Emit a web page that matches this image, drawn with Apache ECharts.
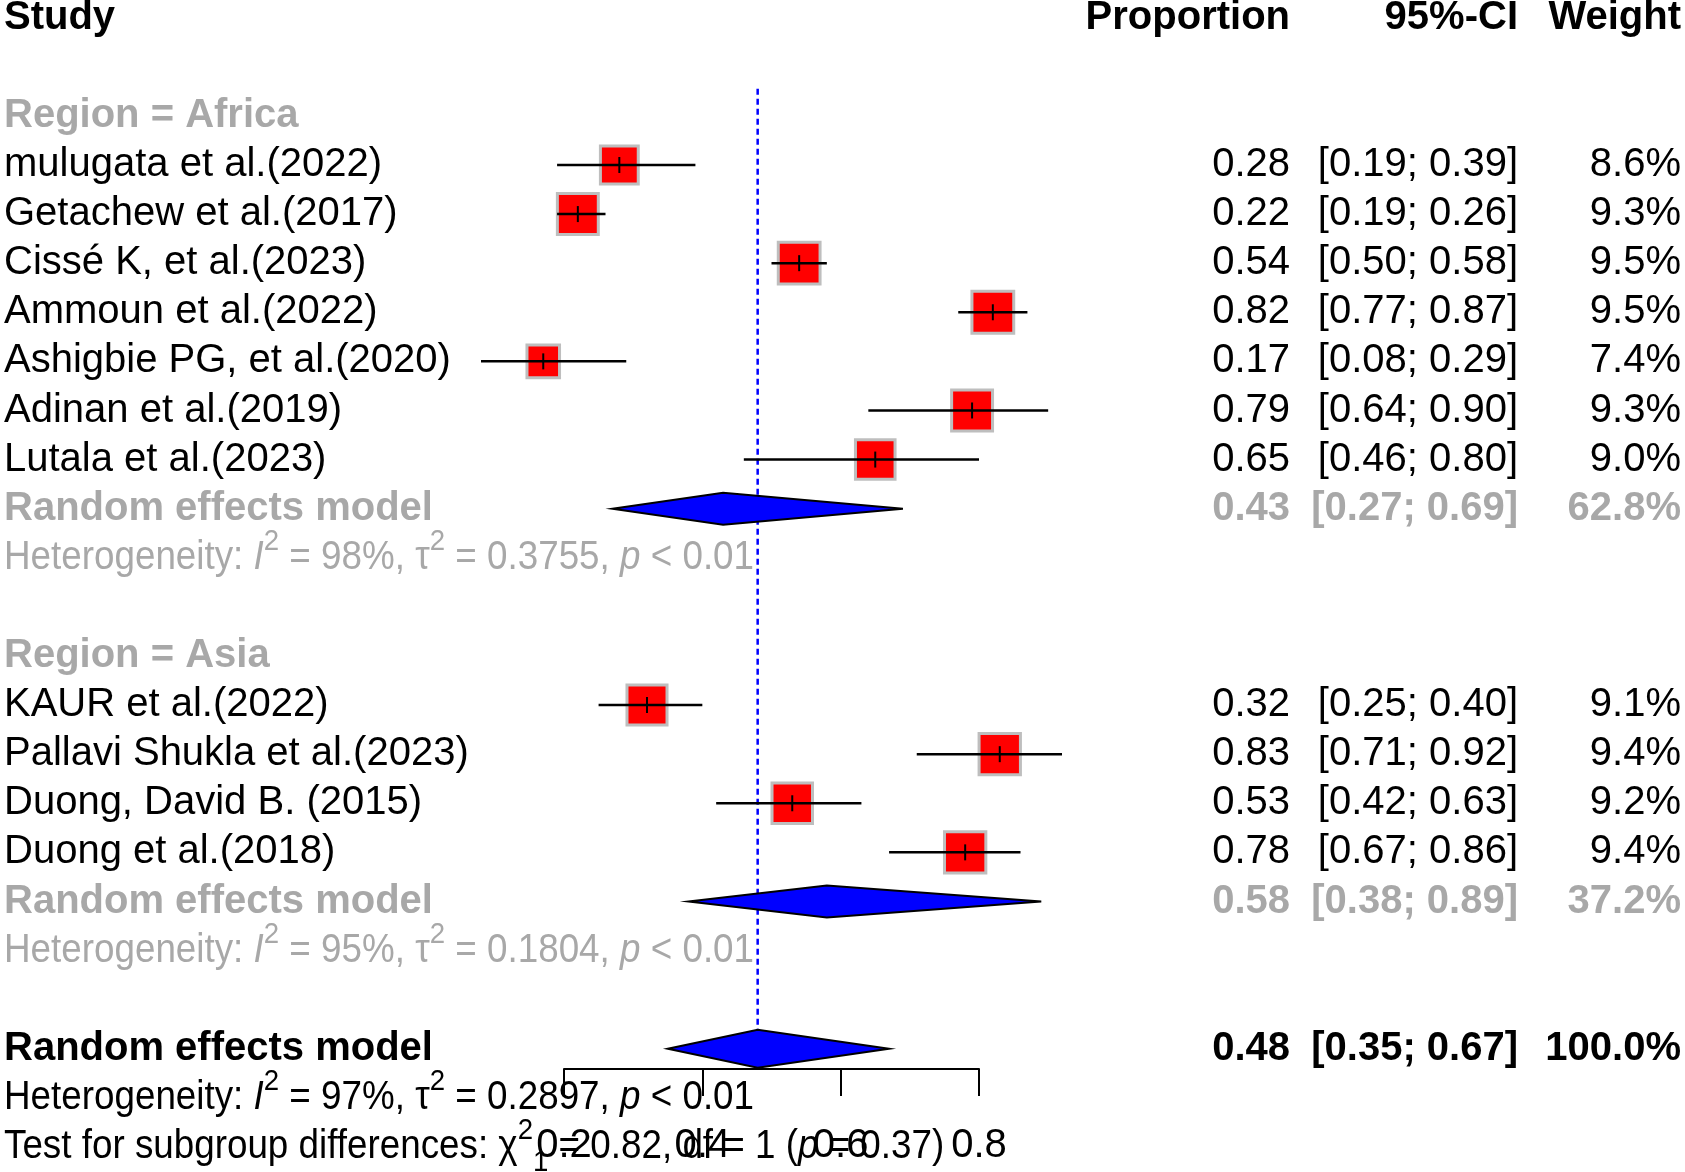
<!DOCTYPE html>
<html>
<head>
<meta charset="utf-8">
<title>Forest plot - proportion by region</title>
<script src="https://cdn.jsdelivr.net/npm/echarts@6/dist/echarts.min.js"></script>
<style>
  html, body { margin: 0; padding: 0; background: #ffffff; }
  #chart { width: 1685px; height: 1172px; }
</style>
</head>
<body>
<div id="chart"></div>
<script>
// ---- data ----
var studyNames = [
  'mulugata et al.(2022)', 'Getachew et al.(2017)', 'Cissé K, et al.(2023)', 'Ammoun et al.(2022)',
  'Ashigbie PG, et al.(2020)', 'Adinan et al.(2019)', 'Lutala et al.(2023)',
  'KAUR et al.(2022)', 'Pallavi Shukla et al.(2023)', 'Duong, David B. (2015)', 'Duong et al.(2018)'
];
var studyRegion = ['Africa', 'Africa', 'Africa', 'Africa', 'Africa', 'Africa', 'Africa', 'Asia', 'Asia', 'Asia', 'Asia'];
var proportion = [0.28, 0.22, 0.54, 0.82, 0.17, 0.79, 0.65, 0.32, 0.83, 0.53, 0.78];
var ciLower    = [0.19, 0.19, 0.50, 0.77, 0.08, 0.64, 0.46, 0.25, 0.71, 0.42, 0.67];
var ciUpper    = [0.39, 0.26, 0.58, 0.87, 0.29, 0.90, 0.80, 0.40, 0.92, 0.63, 0.86];
var weight     = [8.6, 9.3, 9.5, 9.5, 7.4, 9.3, 9.0, 9.1, 9.4, 9.2, 9.4];

var regions = ['Africa', 'Asia'];
var pooledEst    = [0.43, 0.58];
var pooledLower  = [0.27, 0.38];
var pooledUpper  = [0.69, 0.89];
var pooledWeight = [62.8, 37.2];
var hetI2   = ['98%', '95%'];
var hetTau2 = ['0.3755', '0.1804'];
var hetP    = ['< 0.01', '< 0.01'];

var overallEst = [0.48];
var overallLower = [0.35];
var overallUpper = [0.67];
var overallI2 = '97%', overallTau2 = '0.2897', overallP = '< 0.01';
var testChi2 = '0.82', testDf = '1', testP = '0.37';

var xTicks = [0.2, 0.4, 0.6, 0.8];

// ---- layout ----
var FONT = '"Liberation Sans", Arial, sans-serif';
var GREY = '#a8a8a8';
var colX = { study: 4, prop: 1290, ci: 1518, weight: 1681 };
var NARROW = 0.92;   // heterogeneity / test lines are set in a narrower face

function fmt(v) { return v.toFixed(2); }
function ciText(lo, hi) { return '[' + fmt(lo) + '; ' + fmt(hi) + ']'; }

function richStyles(bold) {
  var w = bold ? 'bold' : 'normal';
  return {
    n:   { fontFamily: FONT, fontSize: 40, fontWeight: w, lineHeight: 62 },
    it:  { fontFamily: FONT, fontSize: 40, fontWeight: w, fontStyle: 'italic', lineHeight: 62 },
    sup: { fontFamily: FONT, fontSize: 30, fontWeight: w, lineHeight: 30, verticalAlign: 'top' },
    sub: { fontFamily: FONT, fontSize: 30, fontWeight: w, lineHeight: 30, verticalAlign: 'bottom' }
  };
}

function hetString(i2, tau2, p) {
  return '{n|Heterogeneity: }{it|I}{sup|2}{n| = ' + i2 + ', τ}{sup|2}{n| = ' + tau2 + ', }{it|p}{n| ' + p + '}';
}

// build rows: text items, study marks, diamonds
var texts = [];      // [row, x, align, text, color, bold, scaleX]
var studyRows = [];  // [proportion, row, lower, upper, weight]
var diamonds = [];   // [est, row, lower, upper, height]
var row = 0;

texts.push([row, colX.study, 'left', '{n|Study}', '#000', true, 1]);
texts.push([row, colX.prop, 'right', '{n|Proportion}', '#000', true, 1]);
texts.push([row, colX.ci, 'right', '{n|95%-CI}', '#000', true, 1]);
texts.push([row, colX.weight, 'right', '{n|Weight}', '#000', true, 1]);
row += 2;

regions.forEach(function (reg, g) {
  texts.push([row, colX.study, 'left', '{n|Region = ' + reg + '}', GREY, true, 1]);
  row++;
  for (var i = 0; i < studyNames.length; i++) {
    if (studyRegion[i] !== reg) continue;
    texts.push([row, colX.study, 'left', '{n|' + studyNames[i] + '}', '#000', false, 1]);
    texts.push([row, colX.prop, 'right', '{n|' + fmt(proportion[i]) + '}', '#000', false, 1]);
    texts.push([row, colX.ci, 'right', '{n|' + ciText(ciLower[i], ciUpper[i]) + '}', '#000', false, 1]);
    texts.push([row, colX.weight, 'right', '{n|' + weight[i].toFixed(1) + '%}', '#000', false, 1]);
    studyRows.push([proportion[i], row, ciLower[i], ciUpper[i], weight[i]]);
    row++;
  }
  texts.push([row, colX.study, 'left', '{n|Random effects model}', GREY, true, 1]);
  texts.push([row, colX.prop, 'right', '{n|' + fmt(pooledEst[g]) + '}', GREY, true, 1]);
  texts.push([row, colX.ci, 'right', '{n|' + ciText(pooledLower[g], pooledUpper[g]) + '}', GREY, true, 1]);
  texts.push([row, colX.weight, 'right', '{n|' + pooledWeight[g].toFixed(1) + '%}', GREY, true, 1]);
  diamonds.push([pooledEst[g], row, pooledLower[g], pooledUpper[g], 32]);
  row++;
  texts.push([row, colX.study, 'left', hetString(hetI2[g], hetTau2[g], hetP[g]), GREY, false, NARROW]);
  row += 2;
});

var overallRow = row;
texts.push([row, colX.study, 'left', '{n|Random effects model}', '#000', true, 1]);
texts.push([row, colX.prop, 'right', '{n|' + fmt(overallEst[0]) + '}', '#000', true, 1]);
texts.push([row, colX.ci, 'right', '{n|' + ciText(overallLower[0], overallUpper[0]) + '}', '#000', true, 1]);
texts.push([row, colX.weight, 'right', '{n|100.0%}', '#000', true, 1]);
diamonds.push([overallEst[0], row, overallLower[0], overallUpper[0], 38]);
row++;
texts.push([row, colX.study, 'left', hetString(overallI2, overallTau2, overallP), '#000', false, NARROW]);
row++;
texts.push([row, colX.study, 'left',
  '{n|Test for subgroup differences: χ}{sup|2}{sub|1}{n| = ' + testChi2 + ', df = ' + testDf + ' (}{it|p}{n| = ' + testP + ')}',
  '#000', false, NARROW]);

var chart = echarts.init(document.getElementById('chart'));

var option = {
  backgroundColor: '#ffffff',
  animation: false,
  grid: { left: 564, right: 706, top: 0, bottom: 103, outerBoundsMode: 'none' },
  xAxis: {
    type: 'value',
    position: 'bottom',
    min: xTicks[0],
    max: xTicks[xTicks.length - 1],
    interval: 0.2,
    axisLine: { show: true, onZero: false, lineStyle: { color: '#000', width: 2 } },
    axisTick: { show: true, length: 27, lineStyle: { color: '#000', width: 2 } },
    axisLabel: {
      color: '#000', fontSize: 40, fontFamily: FONT, margin: 57,
      showMinLabel: true, showMaxLabel: true,
      formatter: function (v) { return String(Math.round(v * 10) / 10); }
    },
    splitLine: { show: false }
  },
  yAxis: {
    type: 'value', inverse: true, show: false,
    min: -0.36, max: 21.412
  },
  series: [
    // dashed line at the overall estimate
    {
      type: 'custom',
      data: [[overallEst[0], 1.45, overallRow]],
      z: 1,
      renderItem: function (params, api) {
        var p1 = api.coord([api.value(0), api.value(1)]);
        var p2 = api.coord([api.value(0), api.value(2)]);
        return {
          type: 'line',
          shape: { x1: p1[0], y1: p1[1], x2: p2[0], y2: p2[1] },
          style: { stroke: '#0000ff', lineWidth: 2.5, lineDash: [6, 4] }
        };
      }
    },
    // study squares
    {
      type: 'scatter',
      clip: false,
      z: 2,
      symbol: 'rect',
      data: studyRows,
      symbolSize: function (v) { return 4.4 * v[4]; },
      itemStyle: { color: '#ff0000', borderColor: '#bebebe', borderWidth: 3, opacity: 1 },
      emphasis: { disabled: true }
    },
    // confidence intervals + estimate tick
    {
      type: 'custom',
      z: 3,
      data: studyRows,
      renderItem: function (params, api) {
        var lo = api.coord([api.value(2), api.value(1)]);
        var hi = api.coord([api.value(3), api.value(1)]);
        var c = api.coord([api.value(0), api.value(1)]);
        return {
          type: 'group',
          children: [
            { type: 'line', shape: { x1: lo[0], y1: lo[1], x2: hi[0], y2: hi[1] },
              style: { stroke: '#000', lineWidth: 2.5 } },
            { type: 'line', shape: { x1: c[0], y1: c[1] - 8, x2: c[0], y2: c[1] + 8 },
              style: { stroke: '#000', lineWidth: 2 } }
          ]
        };
      }
    },
    // pooled diamonds
    {
      type: 'custom',
      z: 4,
      data: diamonds,
      renderItem: function (params, api) {
        var h = api.value(4) / 2;
        var lo = api.coord([api.value(2), api.value(1)]);
        var hi = api.coord([api.value(3), api.value(1)]);
        var c = api.coord([api.value(0), api.value(1)]);
        return {
          type: 'polygon',
          shape: { points: [[lo[0], lo[1]], [c[0], c[1] - h], [hi[0], hi[1]], [c[0], c[1] + h]] },
          style: { fill: '#0000ff', stroke: '#000', lineWidth: 2 }
        };
      }
    },
    // table text
    {
      type: 'custom',
      z: 5,
      data: texts.map(function (t, i) { return [t[0], i]; }),
      renderItem: function (params, api) {
        var t = texts[api.value(1)];
        var y = api.coord([0.5, t[0]])[1];
        return {
          type: 'text',
          x: t[1],
          y: y,
          scaleX: t[6],
          style: {
            text: t[3],
            rich: richStyles(t[5]),
            fill: t[4],
            fontFamily: FONT,
            fontSize: 40,
            fontWeight: t[5] ? 'bold' : 'normal',
            align: t[2],
            verticalAlign: 'middle'
          }
        };
      }
    }
  ]
};

chart.setOption(option);
</script>
</body>
</html>
